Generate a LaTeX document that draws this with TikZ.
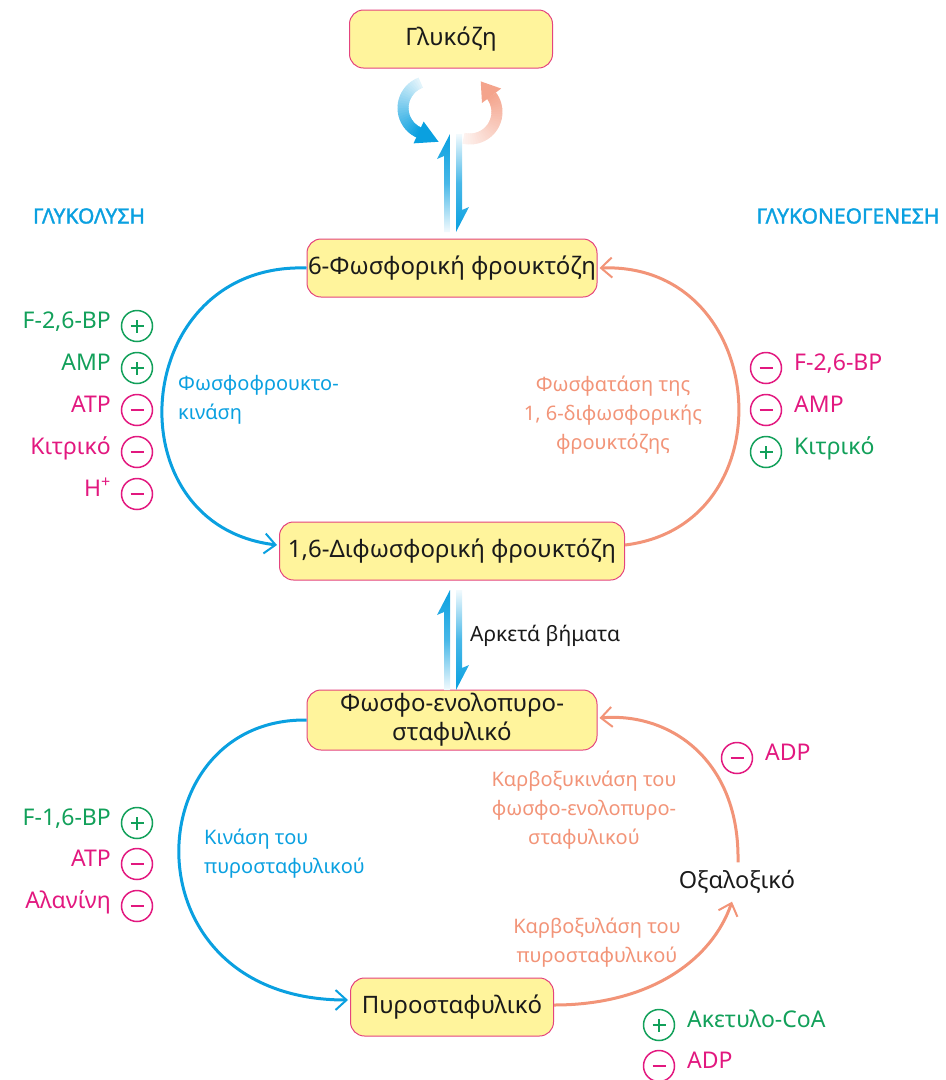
\documentclass[tikz,border=0pt]{standalone}
\usepackage{fontspec}
\setmainfont{Noto Sans}
\newfontfamily\hdfont[FakeBold=1.6]{Noto Sans}
\usetikzlibrary{arrows.meta,calc}
\definecolor{cblue}{HTML}{0AA0E0}
\definecolor{csal}{HTML}{F29478}
\definecolor{cgreen}{HTML}{12A05A}
\definecolor{cmag}{HTML}{E2187F}
\definecolor{boxfill}{HTML}{FFF49C}
\definecolor{boxline}{HTML}{E4447E}
\definecolor{ctext}{HTML}{1A1A1A}
\begin{document}
\begin{tikzpicture}[x=1pt,y=-1pt,
  box/.style={draw=boxline, fill=boxfill, line width=1pt, rounded corners=14pt, minimum height=58pt, inner sep=0pt, align=center, text=ctext, font=\fontsize{24}{29}\selectfont},
  lbl/.style={font=\fontsize{20}{29}\selectfont, inner sep=0pt, align=center},
  reg/.style={font=\fontsize{23}{26}\selectfont, inner sep=0pt},
  head/.style={font=\hdfont\fontsize{21}{24}\selectfont, text=cblue, inner sep=0pt},
  signc/.style={circle, draw, line width=1.5pt, minimum size=31pt, inner sep=0pt},
  pluscirc/.style={signc, path picture={\draw[line width=1.5pt] ($(path picture bounding box.center)+(-6.5pt,0)$) -- ++(13pt,0); \draw[line width=1.5pt] ($(path picture bounding box.center)+(0,-6.5pt)$) -- ++(0,13pt);}},
  minuscirc/.style={signc, path picture={\draw[line width=1.5pt] ($(path picture bounding box.center)+(-6.5pt,0)$) -- ++(13pt,0);}},
  conn/.style={line width=3pt, -{Straight Barb[length=11pt,width=20pt,line width=2pt]}},
]
\useasboundingbox (0,0) rectangle (946,1080);

% main nodes
\node[box, minimum width=203pt] (glu) at (451,39) {Γλυκόζη};
\node[box, minimum width=290pt] (f6p) at (452,268) {6-Φωσφορική φρουκτόζη};
\node[box, minimum width=345pt] (fbp) at (452,551) {1,6-Διφωσφορική φρουκτόζη};
\node[box, minimum width=290pt, minimum height=60pt] (pep) at (452,720) {Φωσφο-ενολοπυρο-\\σταφυλικό};
\node[box, minimum width=203pt] (pyr) at (452,1007) {Πυροσταφυλικό};
\node[font=\fontsize{23.5}{28}\selectfont, text=ctext, inner sep=0pt] (oaa) at (737,882) {Οξαλοξικό};

% headers
\node[head] (hgly) at (89,216) {ΓΛΥΚΟΛΥΣΗ};
\node[head] (hgng) at (848,216) {ΓΛΥΚΟΝΕΟΓΕΝΕΣΗ};

% glucose curved arrows
\coordinate (bc) at (430,108);
\foreach \i in {0,...,26} {
  \pgfmathsetmacro{\aa}{250-\i*5}
  \pgfmathsetmacro{\ab}{\aa-6.5}
  \pgfmathsetmacro{\pc}{12+\i*3.3}
  \draw[cblue!\pc!white, line width=11pt] ($(bc)+(\aa:27)$) arc[start angle=\aa, end angle=\ab, radius=27];
}
\fill[cblue] ($(bc)+(115:27)+(115:12)$) -- ($(bc)+(115:27)+(25:22)$) -- ($(bc)+(115:27)+(295:12)$) -- cycle;
\coordinate (sc) at (470,112);
\foreach \i in {0,...,27} {
  \pgfmathsetmacro{\aa}{104-\i*5}
  \pgfmathsetmacro{\ab}{\aa-6.5}
  \pgfmathsetmacro{\pc}{12+\i*2.6}
  \draw[csal!\pc!white, line width=11pt] ($(sc)+(\aa:27)$) arc[start angle=\aa, end angle=\ab, radius=27];
}
\fill[csal!85!white] ($(sc)+(-37:27)+(-37:12)$) -- ($(sc)+(-37:27)+(-127:18)$) -- ($(sc)+(-37:27)+(143:12)$) -- cycle;

% harpoons glucose <-> F6P
\shade[top color=cblue, bottom color=cblue!5!white, middle color=cblue!75!white] (450,134) -- (450,232) -- (444,232) -- (444,156) -- (437,159) -- cycle;
\shade[top color=cblue!5!white, bottom color=cblue, middle color=cblue!75!white] (456,232) -- (456,134) -- (462,134) -- (462,210) -- (469,207) -- cycle;
% harpoons FBP <-> PEP
\shade[top color=cblue, bottom color=cblue!5!white, middle color=cblue!75!white] (450,590) -- (450,690) -- (444,690) -- (444,612) -- (437,615) -- cycle;
\shade[top color=cblue!5!white, bottom color=cblue, middle color=cblue!75!white] (456,690) -- (456,590) -- (462,590) -- (462,668) -- (469,665) -- cycle;
\node[font=\fontsize{21}{24}\selectfont, text=ctext, inner sep=0pt, anchor=west] (steps) at (470,636) {Αρκετά βήματα};

% main cycle connectors
\draw[conn, cblue] (f6p.west) .. controls (130,262) and (110,525) .. ($(fbp.west)+(-2,-6)$);
\draw[conn, csal] ($(fbp.east)+(0,-6)$) .. controls (790,525) and (770,262) .. ($(f6p.east)+(2,0)$);
\draw[conn, cblue] (pep.west) .. controls (135,718) and (125,1000) .. ($(pyr.west)+(-2,-7)$);
\draw[conn, csal] ($(pyr.east)+(0,-2)$) .. controls (650,1005) and (712,960) .. ($(oaa.south)+(-5,8)$);
\draw[conn, csal] ($(oaa.north)+(1,-8)$) .. controls (740,760) and (670,712) .. ($(pep.east)+(2,-2)$);

% enzyme labels
\node[lbl, text=cblue, align=left, anchor=north west] (pfk) at (178,375) {Φωσφοφρουκτο-\\κινάση};
\node[lbl, text=csal] (fbpase) at (613,415) {Φωσφατάση της\\1, 6-διφωσφορικής\\φρουκτόζης};
\node[lbl, text=cblue, align=left, anchor=north west] (pk) at (204,829) {Κινάση του\\πυροσταφυλικού};
\node[lbl, text=csal] (pepck) at (584,810) {Καρβοξυκινάση του\\φωσφο-ενολοπυρο-\\σταφυλικού};
\node[lbl, text=csal] (pc) at (597,943) {Καρβοξυλάση του\\πυροσταφυλικού};

% left top regulators
\node[pluscirc, cgreen] (r1) at (137,326) {};
\node[reg, text=cgreen, anchor=mid east] at (111,326) {F-2,6-BP};
\node[pluscirc, cgreen] (r2) at (137,368) {};
\node[reg, text=cgreen, anchor=mid east] at (111,368) {AMP};
\node[minuscirc, cmag] (r3) at (137,410) {};
\node[reg, text=cmag, anchor=mid east] at (111,410) {ATP};
\node[minuscirc, cmag] (r4) at (137,452) {};
\node[reg, text=cmag, anchor=mid east] at (111,452) {Κιτρικό};
\node[minuscirc, cmag] (r5) at (137,494) {};
\node[reg, text=cmag, anchor=mid east] at (111,494) {H\textsuperscript{+}};

% right top regulators
\node[minuscirc, cmag] (s1) at (766,368) {};
\node[reg, text=cmag, anchor=mid west] at (794,368) {F-2,6-BP};
\node[minuscirc, cmag] (s2) at (766,410) {};
\node[reg, text=cmag, anchor=mid west] at (794,410) {AMP};
\node[pluscirc, cgreen] (s3) at (766,452) {};
\node[reg, text=cgreen, anchor=mid west] at (794,452) {Κιτρικό};

% bottom left regulators
\node[pluscirc, cgreen] (t1) at (137,823) {};
\node[reg, text=cgreen, anchor=mid east] at (111,823) {F-1,6-BP};
\node[minuscirc, cmag] (t2) at (137,864) {};
\node[reg, text=cmag, anchor=mid east] at (111,864) {ATP};
\node[minuscirc, cmag] (t3) at (137,906) {};
\node[reg, text=cmag, anchor=mid east] at (111,906) {Αλανίνη};

% bottom right regulators
\node[minuscirc, cmag] (u1) at (737,758) {};
\node[reg, text=cmag, anchor=mid west] at (765,758) {ADP};
\node[pluscirc, cgreen] (u2) at (659,1025) {};
\node[reg, text=cgreen, anchor=mid west] at (687,1025) {Ακετυλο-CoA};
\node[minuscirc, cmag] (u3) at (659,1066) {};
\node[reg, text=cmag, anchor=mid west] at (687,1066) {ADP};
\end{tikzpicture}
\end{document}
